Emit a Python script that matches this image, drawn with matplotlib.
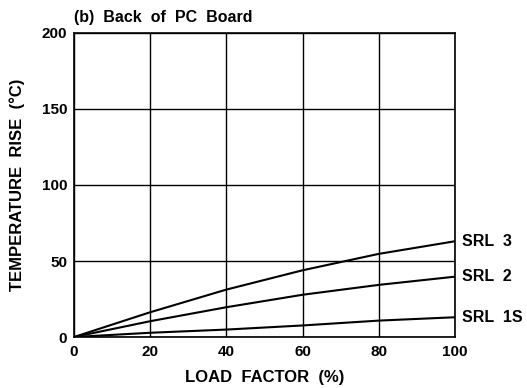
import matplotlib
matplotlib.use('Agg')
import matplotlib.pyplot as plt

FONT = 'Liberation Sans'
TICK_SIZE = 11
LABEL_SIZE = 12
TEXT_SIZE = 11.5

# load factor (%) and temperature rise (deg C)
load = [0, 20, 40, 60, 80, 100]
srl3 = [0, 16.3, 31.2, 43.9, 54.7, 63.0]
srl2 = [0, 10.4, 19.6, 27.8, 34.3, 39.7]
srl1s = [0, 2.8, 4.9, 7.6, 10.8, 13.0]
series_names = ['SRL  3', 'SRL  2', 'SRL  1S']

x_ticks = [0, 20, 40, 60, 80, 100]
y_ticks = [0, 50, 100, 150, 200]

plt.rcParams['font.family'] = FONT
plt.rcParams['font.weight'] = 'bold'

fig = plt.figure(figsize=(5.27, 3.88), dpi=100)
ax = fig.add_axes([0.1404, 0.1314, 0.7230, 0.7836])

for ys, name in zip([srl3, srl2, srl1s], series_names):
    ax.plot(load, ys, color='black', linewidth=1.5)
    ax.text(101.8, ys[-1], name, fontsize=TEXT_SIZE, fontweight='bold',
            va='center', ha='left')

ax.set_xlim(0, 100)
ax.set_ylim(0, 200)
ax.set_xticks(x_ticks)
ax.set_yticks(y_ticks)
ax.tick_params(length=0, labelsize=TICK_SIZE)
ax.tick_params(axis='x', pad=6)
ax.tick_params(axis='y', pad=5)
for lbl in ax.get_xticklabels() + ax.get_yticklabels():
    lbl.set_fontweight('bold')
ax.grid(True, color='black', linewidth=1)
for s in ax.spines.values():
    s.set_linewidth(1.2)

ax.set_xlabel('LOAD  FACTOR  (%)', fontsize=LABEL_SIZE, fontweight='bold', labelpad=8)
ax.set_ylabel('TEMPERATURE  RISE  (°C)', fontsize=LABEL_SIZE, fontweight='bold', labelpad=12)
ax.text(0, 1.025, '(b)  Back  of  PC  Board', transform=ax.transAxes,
        fontsize=TEXT_SIZE, fontweight='bold', ha='left', va='bottom')

fig.savefig('out.png', dpi=100)
